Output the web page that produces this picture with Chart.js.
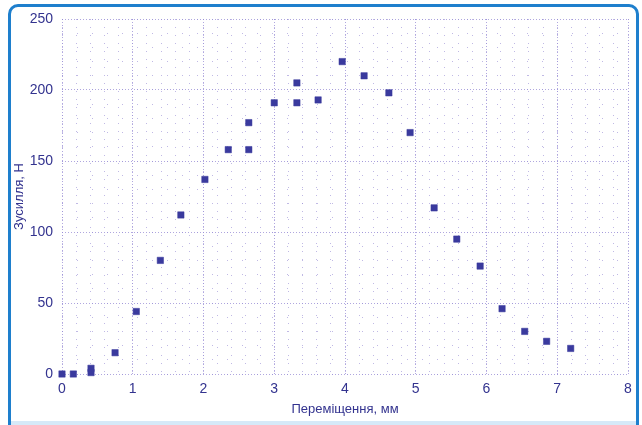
<!DOCTYPE html>
<html>
<head>
<meta charset="utf-8">
<script src="https://cdn.jsdelivr.net/npm/chart.js@4/dist/chart.umd.min.js"></script>
<style>
  html, body { margin: 0; padding: 0; background: #ffffff; }
  #wrap { position: relative; width: 642px; height: 425px; overflow: hidden; background: #ffffff; }
  #frame {
    position: absolute; left: 8px; top: 4px; width: 631px; height: 430px;
    border: 3px solid #1e7fcd; border-radius: 10px 10px 0 0; box-sizing: border-box;
    pointer-events: none;
  }
  #band { position: absolute; left: 11px; top: 421px; width: 625px; height: 4px; background: #d6e9f8; }
  canvas { position: absolute; left: 0; top: 0; }
</style>
</head>
<body>
<div id="wrap">
  <canvas id="chart" width="642" height="425"></canvas>
  <div id="band"></div>
  <div id="frame"></div>
</div>
<script>
/* ---------- data ---------- */
const displacement = [0, 0.16, 0.41, 0.41, 0.75, 1.05, 1.39, 1.68, 2.02, 2.35, 2.64, 2.64,
  3.0, 3.32, 3.32, 3.62, 3.96, 4.27, 4.62, 4.92, 5.26, 5.58, 5.91, 6.22, 6.54, 6.85, 7.19];
const force = [0, 0, 1, 4, 15, 44, 80, 112, 137, 158, 158, 177,
  191, 191, 205, 193, 220, 210, 198, 170, 117, 95, 76, 46, 30, 23, 18];

const xTicks = [0, 1, 2, 3, 4, 5, 6, 7, 8];
const yTicks = [0, 50, 100, 150, 200, 250];

const xTitle = "Переміщення, мм";
const yTitle = "Зусилля, Н";

/* ---------- styles ---------- */
const inkBlue = "#33338f";
const pointBlue = "#3a3a9e";
const gridMajor = "rgba(150, 138, 212, 0.75)";
const gridMinor = "rgba(150, 138, 212, 0.6)";
const font = "'Liberation Sans', Arial, sans-serif";

const points = displacement.map((x, i) => ({ x: x, y: force[i] }));

new Chart(document.getElementById("chart"), {
  type: "scatter",
  data: {
    datasets: [{
      data: points,
      pointStyle: "rect",
      pointRadius: 4.5,
      backgroundColor: pointBlue,
      borderColor: "rgba(58, 58, 158, 0.5)",
      borderWidth: 1,
      clip: false
    }]
  },
  options: {
    responsive: false,
    animation: false,
    layout: { padding: { top: 19, right: 14, left: 0, bottom: 0 } },
    plugins: { legend: { display: false }, tooltip: { enabled: false } },
    scales: {
      xMinor: {
        type: "linear", position: "bottom", min: 0, max: 8,
        ticks: { display: false, stepSize: 0.2 },
        grid: { color: gridMinor, lineWidth: 1, drawTicks: false },
        border: { display: false, dash: [1, 7] },
        afterFit: s => { s.height = 0; }
      },
      yMinor: {
        type: "linear", position: "left", min: 0, max: 250,
        ticks: { display: false, stepSize: 10 },
        grid: { color: gridMinor, lineWidth: 1, drawTicks: false },
        border: { display: false, dash: [1, 14] },
        afterFit: s => { s.width = 0; }
      },
      x: {
        type: "linear", position: "bottom", min: 0, max: 8,
        afterBuildTicks: s => { s.ticks = xTicks.map(v => ({ value: v })); },
        ticks: { color: inkBlue, padding: 7, font: { family: font, size: 14 } },
        grid: { color: gridMajor, lineWidth: 1, drawTicks: false },
        border: { display: false, dash: [1, 2] },
        title: {
          display: true, text: xTitle, color: inkBlue,
          font: { family: font, size: 13 }, padding: { top: 0, bottom: 8 }
        },
        afterFit: s => { s.height = 51; }
      },
      y: {
        type: "linear", position: "left", min: 0, max: 250,
        afterBuildTicks: s => { s.ticks = yTicks.map(v => ({ value: v })); },
        ticks: { color: inkBlue, padding: 9, font: { family: font, size: 14 } },
        grid: { color: gridMajor, lineWidth: 1, drawTicks: false },
        border: { display: false, dash: [1, 2] },
        title: {
          display: true, text: yTitle, color: inkBlue,
          font: { family: font, size: 13 }, padding: { top: 12, bottom: 0 }
        },
        afterFit: s => { s.width = 62; }
      }
    }
  }
});
</script>
</body>
</html>
